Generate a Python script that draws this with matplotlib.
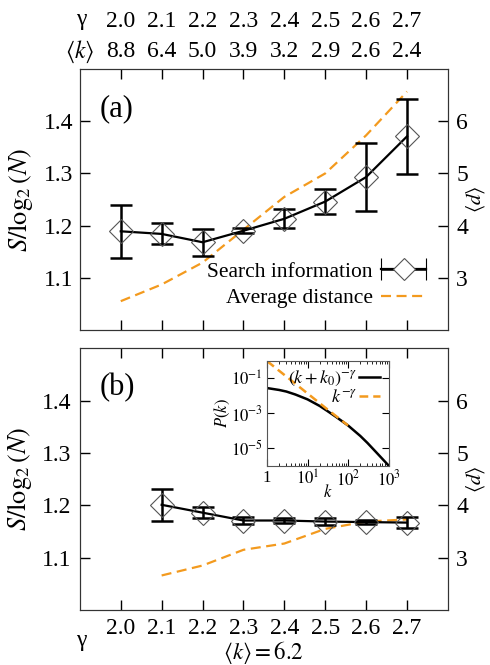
import numpy as np
import matplotlib
matplotlib.use('Agg')
import matplotlib.pyplot as plt
from matplotlib.legend_handler import HandlerErrorbar
from matplotlib.container import ErrorbarContainer

plt.rcParams['font.family'] = ['Liberation Serif', 'DejaVu Serif']
plt.rcParams['mathtext.fontset'] = 'stix'

gamma = [2.0, 2.1, 2.2, 2.3, 2.4, 2.5, 2.6, 2.7]
k_mean = ['8.8', '6.4', '5.0', '3.9', '3.2', '2.9', '2.6', '2.4']

# panel (a): <k> changes with gamma
S_a = [1.189, 1.184, 1.168, 1.190, 1.213, 1.246, 1.293, 1.371]
S_a_err = [0.051, 0.020, 0.026, 0.005, 0.018, 0.024, 0.066, 0.072]
d_a = [2.55, 2.87, 3.29, 3.92, 4.55, 5.00, 5.73, 6.57]

# panel (b): <k> = 6.2 fixed
gamma_b = [2.1, 2.2, 2.3, 2.4, 2.5, 2.6, 2.7]
S_b = [1.201, 1.186, 1.171, 1.171, 1.169, 1.168, 1.167]
S_b_err = [0.031, 0.011, 0.007, 0.004, 0.007, 0.004, 0.010]
d_b = [2.66, 2.85, 3.15, 3.27, 3.55, 3.69, 3.73]

# inset: degree distributions
k_in = [1, 2, 3, 5, 10, 20, 30, 50, 100, 200, 300, 500, 1000]
logP_shift = [-1.55, -1.66, -1.75, -1.92, -2.2, -2.58, -2.85, -3.2, -3.7, -4.3, -4.7, -5.25, -6.0]
k_pure = [1, 10, 30, 100]
logP_pure = [0.0, -1.86, -2.75, -3.7]

orange = '#f39a1e'
fs = 17

fig = plt.figure(figsize=(4.9, 6.65), dpi=100)
ax_a = fig.add_axes([0.163, 0.504, 0.751, 0.392])
ax_b = fig.add_axes([0.163, 0.0827, 0.751, 0.3935])


def style(ax, axr):
    ax.set_xlim(1.9, 2.8)
    ax.set_ylim(1.0, 1.5)
    axr.set_ylim(2, 7)
    ax.set_xticks(gamma)
    ax.set_yticks([1.1, 1.2, 1.3, 1.4])
    axr.set_yticks([3, 4, 5, 6])
    ax.tick_params(direction='in', length=7, width=1, top=True, labelsize=fs, pad=6)
    axr.tick_params(direction='in', length=7, width=1, labelsize=fs, pad=6)
    ax.set_ylabel(r'$S/\log_2(N)$', fontsize=19, labelpad=6)
    axr.set_ylabel(r'$\langle d\rangle$', fontsize=15, labelpad=-3)
    for a in (ax, axr):
        for s in a.spines.values():
            s.set_color('#333333')


# ---------- (a)
axr_a = ax_a.twinx()
axr_a.plot(gamma, d_a, color=orange, lw=1.6, dashes=(4.5, 2.5))
ax_a.errorbar(gamma, S_a, yerr=S_a_err, fmt='-', color='black', lw=1.6,
              elinewidth=1.8, capsize=8, capthick=1.8, zorder=3)
ax_a.plot(gamma, S_a, 'D', ms=12, mfc='none', mec='#555555', mew=0.8, zorder=4)
ax_a.set_zorder(axr_a.get_zorder() + 1)
ax_a.patch.set_visible(False)
style(ax_a, axr_a)
ax_a.tick_params(labelbottom=False, labeltop=True, pad=5)
ax_a.set_xticklabels(k_mean)
top_g = ax_a.secondary_xaxis('top')
top_g.set_xticks(gamma)
top_g.set_xticklabels([f'{g:.1f}' for g in gamma])
top_g.tick_params(length=0, labelsize=fs, pad=27)
top_g.spines['top'].set_visible(False)
ax_a.text(0.005, 1.19, 'γ', transform=ax_a.transAxes, ha='center', va='center', fontsize=fs)
ax_a.text(0.0, 1.068, r'$\langle k\rangle$', transform=ax_a.transAxes, ha='center', va='center', fontsize=fs)
ax_a.text(0.055, 0.905, '(a)', transform=ax_a.transAxes, ha='left', va='top', fontsize=22)

# legend proxies (horizontal error bar handle like the original)
h1 = ax_a.errorbar([np.nan], [np.nan], xerr=[1], fmt='-D', color='black', lw=1.6, ms=11,
                   mfc='white', mec='#555555', mew=0.8, elinewidth=1.8, capsize=8, capthick=1.8,
                   label='Search information')
h2, = ax_a.plot([np.nan], [np.nan], color=orange, lw=1.6, dashes=(4.5, 2.5), label='Average distance')
ax_a.legend(handles=[h1, h2], loc='lower right', frameon=False, markerfirst=False,
            fontsize=15.5, handlelength=2.1, borderaxespad=0.6, labelspacing=0.3, handletextpad=0.4,
            handler_map={ErrorbarContainer: HandlerErrorbar(xerr_size=1.05)})

# ---------- (b)
axr_b = ax_b.twinx()
axr_b.plot(gamma_b, d_b, color=orange, lw=1.6, dashes=(4.5, 2.5))
ax_b.errorbar(gamma_b, S_b, yerr=S_b_err, fmt='-', color='black', lw=1.6,
              elinewidth=1.8, capsize=8, capthick=1.8, zorder=3)
ax_b.plot(gamma_b, S_b, 'D', ms=12, mfc='none', mec='#555555', mew=0.8, zorder=4)
ax_b.set_zorder(axr_b.get_zorder() + 1)
ax_b.patch.set_visible(False)
style(ax_b, axr_b)
ax_b.set_xticklabels([f'{g:.1f}' for g in gamma])
ax_b.set_xlabel(r'$\langle k\rangle = 6.2$', fontsize=16.5, labelpad=0)
ax_b.text(0.005, -0.115, 'γ', transform=ax_b.transAxes, ha='center', va='center', fontsize=fs)
ax_b.text(0.055, 0.905, '(b)', transform=ax_b.transAxes, ha='left', va='top', fontsize=22)

# ---------- inset
ax_in = fig.add_axes([0.545, 0.300, 0.248, 0.157])
ax_in.plot(k_in, 10 ** np.array(logP_shift), color='black', lw=1.8, label=r'$(k+k_0)^{-\gamma}$')
ax_in.plot(k_pure, 10 ** np.array(logP_pure), color=orange, lw=1.8, dashes=(3.5, 2), label=r'$k^{-\gamma}$')
ax_in.set_xscale('log')
ax_in.set_yscale('log')
ax_in.set_xlim(1, 1000)
ax_in.set_ylim(1e-6, 1)
ax_in.set_xticks([1, 10, 100, 1000])
ax_in.set_xticklabels(['1', r'$10^1$', r'$10^2$', r'$10^3$'])
ax_in.set_yticks([1e-1, 1e-3, 1e-5])
ax_in.set_yticklabels([r'$10^{-1}$', r'$10^{-3}$', r'$10^{-5}$'])
ax_in.tick_params(which='both', direction='in', top=True, right=True, labelsize=12, pad=3)
ax_in.tick_params(which='major', length=5)
ax_in.tick_params(which='minor', length=2.5)
ax_in.set_xlabel(r'$k$', fontsize=12, labelpad=-4)
ax_in.set_ylabel(r'$P(k)$', fontsize=12, labelpad=-1)
for s in ax_in.spines.values():
    s.set_color('#555555')
ax_in.legend(loc='upper right', frameon=False, markerfirst=False, fontsize=13,
             handlelength=1.2, handletextpad=0.1, borderaxespad=0.15, borderpad=0.3, labelspacing=0.05)

fig.savefig('out.png', dpi=100)
